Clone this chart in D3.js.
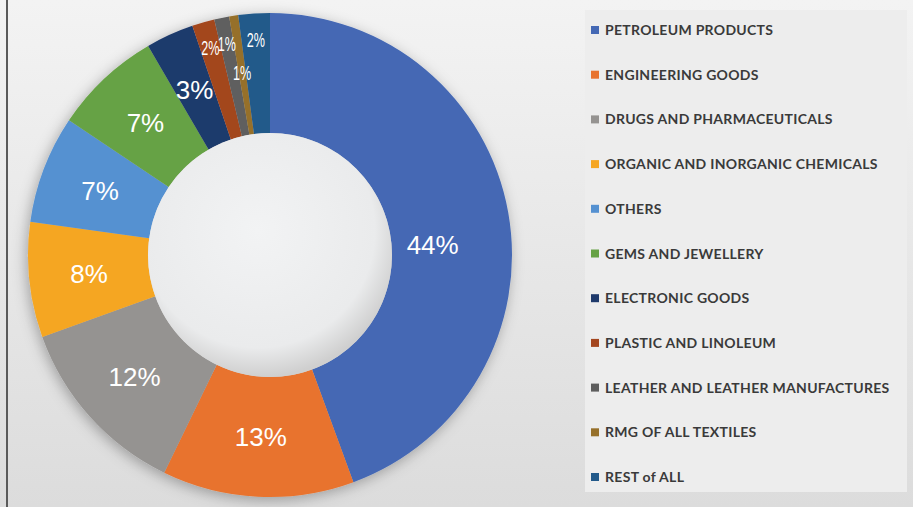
<!DOCTYPE html>
<html>
<head>
<meta charset="utf-8">
<script src="https://cdn.jsdelivr.net/npm/d3@7"></script>
<style>
  html, body { margin: 0; padding: 0; }
  body { width: 913px; height: 507px; overflow: hidden; }
</style>
</head>
<body>
<div id="chart"></div>
<script>
// export share by product group
const categories = [
  "PETROLEUM PRODUCTS",
  "ENGINEERING GOODS",
  "DRUGS AND PHARMACEUTICALS",
  "ORGANIC AND INORGANIC CHEMICALS",
  "OTHERS",
  "GEMS AND JEWELLERY",
  "ELECTRONIC GOODS",
  "PLASTIC AND LINOLEUM",
  "LEATHER AND LEATHER MANUFACTURES",
  "RMG OF ALL TEXTILES",
  "REST of ALL"
];
const shares = [44.4, 12.8, 12.3, 7.7, 7.2, 7.2, 3.2, 1.5, 1.0, 0.6, 2.1];
const colors = ["#4468b4", "#e8732f", "#959391", "#f5a623", "#5591d1", "#66a244",
                "#1f3a6c", "#a3461f", "#5e5e5e", "#96702a", "#235a8a"];

const width = 913, height = 507;
const cx = 270, cy = 255, outerR = 242, innerR = 122;

const data = categories.map((c, i) => ({name: c, value: shares[i], color: colors[i]}));
const total = d3.sum(shares);

const svg = d3.select("#chart").append("svg")
    .attr("width", width)
    .attr("height", height);

const defs = svg.append("defs");

let bg = defs.append("linearGradient").attr("id", "bg")
    .attr("x1", 0).attr("y1", 0).attr("x2", 0).attr("y2", 1);
bg.append("stop").attr("offset", "0%").attr("stop-color", "#f3f3f3");
bg.append("stop").attr("offset", "100%").attr("stop-color", "#dcdcdc");

let hole = defs.append("radialGradient").attr("id", "hole")
    .attr("cx", "45%").attr("cy", "40%").attr("r", "60%");
hole.append("stop").attr("offset", "0%").attr("stop-color", "#f2f3f4");
hole.append("stop").attr("offset", "80%").attr("stop-color", "#eaebec");
hole.append("stop").attr("offset", "100%").attr("stop-color", "#cfcfcf");

let shadow = defs.append("filter").attr("id", "shadow")
    .attr("x", "-20%").attr("y", "-20%").attr("width", "140%").attr("height", "140%");
shadow.append("feDropShadow")
    .attr("dx", -2).attr("dy", 3)
    .attr("stdDeviation", 7)
    .attr("flood-color", "#000")
    .attr("flood-opacity", 0.3);

// background
svg.append("rect")
    .attr("width", width).attr("height", height)
    .attr("fill", "url(#bg)");

svg.append("line")
    .attr("x1", 7).attr("x2", 7)
    .attr("y1", 0).attr("y2", height)
    .attr("stroke", "#5a5a5a")
    .attr("stroke-width", 2);

// legend panel
svg.append("rect")
    .attr("x", 585).attr("y", 10)
    .attr("width", 322).attr("height", 482)
    .attr("fill", "#ededed");

const pie = d3.pie().sort(null).value(d => d.value);
const arc = d3.arc().innerRadius(innerR).outerRadius(outerR);
const arcs = pie(data);

const g = svg.append("g").attr("transform", `translate(${cx},${cy})`);

g.append("g")
    .attr("filter", "url(#shadow)")
  .selectAll("path")
  .data(arcs)
  .join("path")
    .attr("d", arc)
    .attr("fill", d => d.data.color);

g.append("circle")
    .attr("r", innerR)
    .attr("fill", "url(#hole)");

// labels: the thin slices get a narrow font pushed out toward the rim
function labelRadius(d) {
    if (d.data.value < 1) return 185;
    if (d.data.value < 2.5) return 216;
    if (d.data.value > 25) return 163;
    return 182;
}

g.selectAll("text.pct")
  .data(arcs)
  .join("text")
    .attr("class", "pct")
    .attr("transform", d => {
        let a = (d.startAngle + d.endAngle) / 2;
        if (d.data.value > 25) a += 0.11;
        let r = labelRadius(d);
        let x = r * Math.sin(a), y = -r * Math.cos(a);
        let small = d.data.value < 2.5;
        return `translate(${x},${y})` + (small ? " scale(0.6,1)" : "");
    })
    .attr("text-anchor", "middle")
    .attr("dy", "0.36em")
    .attr("fill", "#fff")
    .style("font-family", "'Liberation Sans', Arial, sans-serif")
    .style("font-size", d => d.data.value < 2.5 ? "21px" : "26px")
    .text(d => Math.round(d.data.value / total * 100) + "%");

// legend
const legendY = d3.scalePoint()
    .domain(categories)
    .range([30, 477]);

const legend = svg.append("g").selectAll("g")
  .data(data)
  .join("g")
    .attr("transform", d => `translate(591,${legendY(d.name)})`);

legend.append("rect")
    .attr("x", 0).attr("y", -4)
    .attr("width", 8).attr("height", 8)
    .attr("fill", d => d.color);

legend.append("text")
    .attr("x", 14)
    .attr("dy", "0.36em")
    .attr("fill", "#3a3a3a")
    .style("font-family", "Lato, 'Open Sans', sans-serif")
    .style("font-weight", "bold")
    .style("font-size", "14px")
    .style("letter-spacing", "0.3px")
    .text(d => d.name);
</script>
</body>
</html>
